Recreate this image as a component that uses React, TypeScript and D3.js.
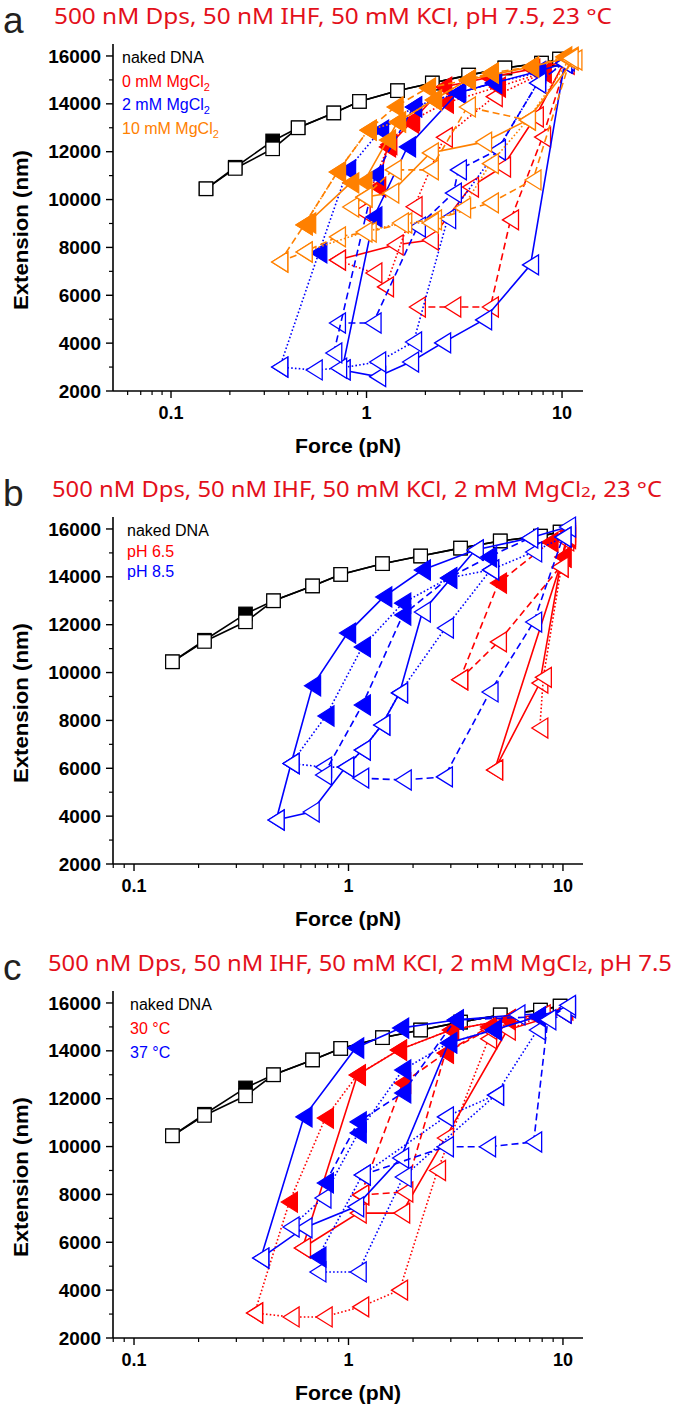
import React from "react";
import * as d3 from "d3";

// [force (pN), extension (nm), filled 1 / open 0]
type Pt = [number, number, number];

// naked DNA, same in all three panels
const nakedForce = [0.151, 0.213, 0.331, 0.447, 0.68, 0.92, 1.44, 2.17, 3.33, 5.1, 7.85, 9.7];
const nakedExtFilled = [10450, 11350, 12450, 13000, 13620, 14100, 14550, 14870, 15200, 15500, 15700, 15870];
const nakedExtOpen = [10450, 11300, 12120, 13000, 13620, 14100, 14550, 14870, 15200, 15500, 15700, 15870];

// ---- panel a: 0 / 2 / 10 mM MgCl2
const aRed1: Pt[] = [[1.82, 5510, 0], [2.76, 5510, 0], [4.3, 5510, 0], [5.45, 9150, 0], [7.95, 12610, 0], [10.5, 15650, 0]];
const aRed2: Pt[] = [[0.71, 7470, 0], [1.4, 8100, 0], [2.12, 8310, 0], [3.4, 10520, 0], [4.96, 11360, 0], [7.3, 13450, 0], [10.2, 15700, 0]];
const aRed3: Pt[] = [[0.71, 7470, 0], [1.09, 6930, 0], [1.25, 6350, 0], [1.75, 9700, 0], [2.5, 12600, 0], [4.5, 14300, 0], [8, 15300, 0]];
const aRed4: Pt[] = [[1.14, 10520, 1], [1.28, 12200, 1], [1.68, 13200, 1], [2.48, 14700, 1], [4.2, 15100, 1], [7, 15450, 1], [10.2, 15750, 1]];
const aRed5: Pt[] = [[0.95, 9500, 0], [1.3, 12300, 1], [1.7, 13300, 1], [2.53, 14030, 1], [4.67, 14700, 1], [8, 15300, 1]];

const aBlue1: Pt[] = [[0.75, 2880, 0], [1.14, 2600, 0], [1.68, 3210, 0], [2.45, 4010, 0], [3.97, 4970, 0], [6.9, 7270, 0], [10.3, 15700, 0]];
const aBlue2: Pt[] = [[0.75, 2880, 0], [1.09, 9270, 1], [1.62, 12200, 1], [2.92, 14450, 1], [4.46, 14870, 1], [7.5, 15350, 1], [10.3, 15700, 1]];
const aBlue3: Pt[] = [[0.36, 3000, 0], [0.54, 2880, 0], [0.72, 2950, 0], [1.14, 3210, 0], [1.74, 4050, 0], [2.6, 9200, 0], [4.67, 12070, 0], [7.5, 14870, 0], [10.5, 15800, 0]];
const aBlue4: Pt[] = [[0.36, 3000, 0], [0.57, 7770, 1], [0.8, 11240, 1], [1.18, 12900, 1], [1.74, 13870, 1], [2.92, 14450, 1], [4.46, 14870, 1], [7.5, 15300, 1]];
const aBlue5: Pt[] = [[0.71, 4840, 0], [1.08, 4840, 0], [1.82, 8850, 0], [2.78, 10270, 0], [2.95, 11240, 0], [4.67, 12070, 0], [7.5, 14870, 0], [10.2, 15700, 0]];
const aBlue6: Pt[] = [[0.68, 3590, 0], [1.11, 11030, 1], [1.74, 13870, 1], [2.92, 14450, 1], [4.46, 14870, 1]];

const aOrange1: Pt[] = [[0.36, 7390, 0], [0.48, 8940, 1], [0.71, 11150, 1], [1.02, 12900, 1], [1.4, 13870, 1], [2.05, 14660, 1], [3.28, 15000, 1], [4.3, 15290, 1], [6.9, 15540, 1], [10.2, 15960, 1]];
const aOrange2: Pt[] = [[0.36, 7390, 0], [0.48, 7810, 0], [0.71, 8440, 0], [1.02, 8640, 0], [1.55, 9020, 0], [2.2, 9150, 0], [4.3, 9860, 0], [7.1, 10820, 0], [11, 15830, 0]];
const aOrange3: Pt[] = [[0.5, 9020, 1], [0.83, 10700, 1], [0.97, 10740, 1], [1.28, 12490, 1], [1.44, 13240, 1], [2.2, 14160, 1], [3.28, 15000, 1], [6.9, 15540, 1], [11, 15950, 1]];
const aOrange4: Pt[] = [[0.83, 9690, 0], [0.97, 10100, 0], [1.33, 10270, 0], [2.12, 11950, 0], [3.97, 12400, 0], [6.65, 13320, 0], [11.5, 15830, 0]];
const aOrange5: Pt[] = [[0.48, 7810, 0], [0.97, 8640, 0], [1.49, 9020, 0], [2.12, 9020, 0], [3.1, 9650, 0], [4.3, 11500, 0], [6.65, 13320, 0], [11, 15900, 0]];
const aOrange6: Pt[] = [[0.48, 8940, 1], [0.71, 11150, 1], [1.02, 12900, 1], [1.44, 13240, 1], [2.2, 14160, 1], [3.28, 15000, 1], [4.3, 15290, 1]];
const aOrange7: Pt[] = [[0.97, 10100, 0], [1.37, 11240, 0], [2.12, 11240, 0], [3.28, 13870, 0], [6.65, 13320, 0]];

// ---- panel b: pH 6.5 / 8.5
const bRed1: Pt[] = [[4.8, 5930, 0], [7.8, 9560, 0], [9.7, 14410, 0], [10.3, 15500, 0]];
const bRed2: Pt[] = [[4.8, 5930, 0], [10, 14830, 1], [10.5, 15800, 1]];
const bRed3: Pt[] = [[7.8, 7680, 0], [8.1, 9800, 0], [10, 14830, 1], [10.5, 15600, 1]];
const bRed4: Pt[] = [[3.3, 9700, 0], [5.0, 13740, 1], [8.7, 15450, 1], [10.5, 15900, 1]];
const bRed5: Pt[] = [[3.3, 9700, 0], [5.0, 11280, 0], [9.7, 14410, 0], [10.5, 15700, 0]];

const bBlue1: Pt[] = [[0.46, 3840, 0], [0.54, 6200, 0], [0.68, 9450, 1], [0.99, 11650, 1], [1.46, 13160, 1], [2.21, 14285, 1], [3.9, 15120, 0], [7.0, 15620, 0], [10.5, 16080, 0]];
const bBlue2: Pt[] = [[0.46, 3840, 0], [0.67, 4170, 0], [0.97, 6050, 0], [1.16, 6760, 0], [1.43, 7810, 0], [1.73, 9150, 0], [2.21, 12530, 0], [3.9, 15120, 0]];
const bBlue3: Pt[] = [[0.54, 6200, 0], [0.785, 8185, 1], [1.16, 11070, 1], [1.79, 12900, 1], [2.93, 13950, 1], [4.6, 14290, 0], [7.3, 15040, 0], [10, 15660, 0]];
const bBlue4: Pt[] = [[0.54, 6200, 0], [0.765, 6050, 0], [0.97, 6050, 0], [1.16, 6760, 0], [1.43, 7810, 0], [1.73, 9150, 0], [2.83, 11860, 0], [4.6, 14290, 0]];
const bBlue5: Pt[] = [[0.765, 5720, 0], [1.16, 8645, 1], [1.79, 12400, 1], [2.93, 13950, 1], [4.5, 14830, 1], [7.0, 15620, 0]];
const bBlue6: Pt[] = [[1.14, 5590, 0], [1.8, 5510, 0], [2.8, 5640, 0], [4.57, 9190, 0], [7.3, 12110, 0], [10, 15660, 0]];

// ---- panel c: 30 / 37 °C
const cRed1: Pt[] = [[0.365, 3045, 0], [0.54, 2880, 0], [0.77, 2880, 0], [1.14, 3300, 0], [1.73, 4000, 0], [2.6, 9000, 0], [4.5, 14500, 0], [7.6, 15400, 0]];
const cRed2: Pt[] = [[0.365, 3045, 0], [0.53, 7680, 1], [0.78, 11190, 1], [1.1, 12990, 1], [1.71, 14030, 1], [2.99, 14870, 1], [5.5, 15300, 1], [10, 15600, 1]];
const cRed3: Pt[] = [[0.61, 5760, 0], [1.11, 7220, 0], [1.77, 7220, 0], [2.83, 10360, 0], [5.5, 14870, 0], [10, 15580, 0]];
const cRed4: Pt[] = [[0.61, 5760, 0], [1.1, 12990, 1], [1.71, 14030, 1], [2.99, 14870, 1], [5.5, 15300, 1], [10.2, 15700, 1]];
const cRed5: Pt[] = [[1.14, 7980, 0], [1.83, 8100, 0], [2.83, 13910, 1], [4.5, 14900, 0], [8, 15500, 0]];
const cRed6: Pt[] = [[1.14, 7980, 0], [1.79, 12650, 1], [2.83, 13910, 1], [4.5, 15000, 1]];

const cBlue1: Pt[] = [[0.39, 5340, 0], [0.62, 11240, 1], [1.08, 14120, 1], [1.75, 14950, 1], [3.15, 15290, 1], [6.1, 15500, 0], [10, 15580, 0]];
const cBlue2: Pt[] = [[0.39, 5340, 0], [0.62, 6600, 0], [1.08, 7480, 0], [1.75, 9520, 0], [2.93, 14330, 1], [4.74, 14870, 1], [7.6, 15420, 1], [10.5, 15800, 0]];
const cBlue3: Pt[] = [[0.72, 4760, 0], [1.11, 4760, 0], [1.8, 8730, 0], [4.85, 12150, 0], [7.6, 14870, 0], [10, 15580, 0]];
const cBlue4: Pt[] = [[0.54, 6640, 0], [0.76, 7850, 0], [1.11, 10570, 1], [1.79, 13200, 1], [2.93, 14330, 1], [4.74, 14870, 1]];
const cBlue5: Pt[] = [[0.78, 8480, 1], [1.11, 11030, 1], [1.79, 12240, 1], [3.15, 15290, 1], [7.6, 15420, 1]];
const cBlue6: Pt[] = [[0.72, 5380, 1], [1.16, 8810, 0], [2.83, 11240, 0], [4.85, 12150, 0]];
const cBlue7: Pt[] = [[1.16, 8810, 0], [2.83, 9990, 0], [4.45, 9990, 0], [7.3, 10190, 0], [8.5, 15300, 0], [10.5, 15900, 0]];

const titleA = ["500 nM Dps, 50 nM IHF, 50 mM KCl, pH 7.5, 23 °C"];
const titleB = ["500 nM Dps, 50 nM IHF, 50 mM KCl, 2 mM MgCl", "2", ", 23 °C"];
const titleC = ["500 nM Dps, 50 nM IHF, 50 mM KCl, 2 mM MgCl", "2", ", pH 7.5"];
const legendA = ["naked DNA", "0 mM MgCl2", "2 mM MgCl2", "10 mM MgCl2"];
const legendB = ["naked DNA", "pH 6.5", "pH 8.5"];
const legendC = ["naked DNA", "30 °C", "37 °C"];
const yTicks = [2000, 4000, 6000, 8000, 10000, 12000, 14000, 16000];
const xTicks = [0.1, 1, 10];

const RED = "#ff0000";
const BLUE = "#0000ff";
const ORANGE = "#ff8000";
const TITLE_RED = "#e3101b";
const DASH: Record<string, string | undefined> = { solid: undefined, dash: "7,4", dot: "1.6,2.2" };

type Series = { pts: Pt[]; color: string; dash: string };

const seriesA: Series[] = [
  { pts: aRed1, color: RED, dash: "dash" },
  { pts: aRed2, color: RED, dash: "solid" },
  { pts: aRed3, color: RED, dash: "dot" },
  { pts: aRed4, color: RED, dash: "solid" },
  { pts: aRed5, color: RED, dash: "dot" },
  { pts: aBlue1, color: BLUE, dash: "solid" },
  { pts: aBlue2, color: BLUE, dash: "solid" },
  { pts: aBlue3, color: BLUE, dash: "dot" },
  { pts: aBlue4, color: BLUE, dash: "dot" },
  { pts: aBlue5, color: BLUE, dash: "dash" },
  { pts: aBlue6, color: BLUE, dash: "dash" },
  { pts: aOrange1, color: ORANGE, dash: "dash" },
  { pts: aOrange2, color: ORANGE, dash: "dash" },
  { pts: aOrange3, color: ORANGE, dash: "solid" },
  { pts: aOrange4, color: ORANGE, dash: "solid" },
  { pts: aOrange5, color: ORANGE, dash: "dot" },
  { pts: aOrange6, color: ORANGE, dash: "dot" },
  { pts: aOrange7, color: ORANGE, dash: "dash" },
];
const seriesB: Series[] = [
  { pts: bRed1, color: RED, dash: "solid" },
  { pts: bRed2, color: RED, dash: "solid" },
  { pts: bRed3, color: RED, dash: "dot" },
  { pts: bRed4, color: RED, dash: "dash" },
  { pts: bRed5, color: RED, dash: "dash" },
  { pts: bBlue1, color: BLUE, dash: "solid" },
  { pts: bBlue2, color: BLUE, dash: "solid" },
  { pts: bBlue3, color: BLUE, dash: "dot" },
  { pts: bBlue4, color: BLUE, dash: "dot" },
  { pts: bBlue5, color: BLUE, dash: "dash" },
  { pts: bBlue6, color: BLUE, dash: "dash" },
];
const seriesC: Series[] = [
  { pts: cRed1, color: RED, dash: "dot" },
  { pts: cRed2, color: RED, dash: "dot" },
  { pts: cRed3, color: RED, dash: "solid" },
  { pts: cRed4, color: RED, dash: "solid" },
  { pts: cRed5, color: RED, dash: "dash" },
  { pts: cRed6, color: RED, dash: "dash" },
  { pts: cBlue1, color: BLUE, dash: "solid" },
  { pts: cBlue2, color: BLUE, dash: "solid" },
  { pts: cBlue3, color: BLUE, dash: "dot" },
  { pts: cBlue4, color: BLUE, dash: "dot" },
  { pts: cBlue5, color: BLUE, dash: "dash" },
  { pts: cBlue6, color: BLUE, dash: "dot" },
  { pts: cBlue7, color: BLUE, dash: "dash" },
];

const SANS = "'Liberation Sans', Arial, sans-serif";
const TITLE_FONT = "'Noto Sans', 'Open Sans', sans-serif";
const X0 = 113;
const X1 = 583;
const TRI_W = 16;
const TRI_H = 20;
const SQ = 13.5;
const tri = `M${-TRI_W / 2},0L${TRI_W / 2},${-TRI_H / 2}L${TRI_W / 2},${TRI_H / 2}Z`;

interface PanelProps {
  y0: number;
  xDomain: [number, number];
  letter: string;
  title: string[];
  titleX: number;
  titleW: number;
  legend: string[];
  legendColors: string[];
  legendX: number;
  legendStep: number;
  series: Series[];
}

const Panel = ({ y0, xDomain, letter, title, titleX, titleW, legend, legendColors, legendX, legendStep, series }: PanelProps) => {
  const x = d3.scaleLog().domain(xDomain).range([X0, X1]);
  const y = d3.scaleLinear().domain([2000, 16500]).range([y0, y0 - 347]);

  const minorX: number[] = [];
  [0.01, 0.1, 1, 10].forEach((dec) => {
    for (let k = 2; k <= 9; k++) {
      const v = dec * k;
      if (v > xDomain[0] && v < xDomain[1]) minorX.push(v);
    }
  });
  const minorY = d3.range(3000, 16500, 2000);

  const lineGen = d3
    .line<Pt>()
    .x((d) => x(d[0]))
    .y((d) => y(d[1]));

  const nakedF: Pt[] = nakedForce.map((f, i) => [f, nakedExtFilled[i], 1]);
  const nakedO: Pt[] = nakedForce.map((f, i) => [f, nakedExtOpen[i], 0]);

  return (
    <g>
      {/* panel letter and title */}
      <text x={3} y={y0 - 358} fontFamily={SANS} fontSize={37} fill="#231f20">
        {letter}
      </text>
      <text
        x={titleX}
        y={y0 - 367}
        fontFamily={TITLE_FONT}
        fontSize={21}
        fill={TITLE_RED}
        textLength={titleW}
        lengthAdjust="spacingAndGlyphs"
      >
        {title.map((t, i) =>
          i === 1 ? (
            <tspan key={i} fontSize={15}>
              {t}
            </tspan>
          ) : (
            <tspan key={i}>{t}</tspan>
          )
        )}
      </text>

      {/* naked DNA */}
      <path d={lineGen(nakedF) || ""} fill="none" stroke="#000" strokeWidth={1.6} />
      {nakedF.map((d, i) => (
        <rect key={`nf${i}`} x={x(d[0]) - SQ / 2} y={y(d[1]) - SQ / 2} width={SQ} height={SQ} fill="#000" stroke="#000" strokeWidth={1.2} />
      ))}
      <path d={lineGen(nakedO) || ""} fill="none" stroke="#000" strokeWidth={1.6} />
      {nakedO.map((d, i) => (
        <rect key={`no${i}`} x={x(d[0]) - SQ / 2} y={y(d[1]) - SQ / 2} width={SQ} height={SQ} fill="#fff" stroke="#000" strokeWidth={1.2} />
      ))}

      {/* data series */}
      {series.map((s, si) => (
        <g key={si}>
          <path d={lineGen(s.pts) || ""} fill="none" stroke={s.color} strokeWidth={1.6} strokeDasharray={DASH[s.dash]} />
          {s.pts.map((d, i) => (
            <path
              key={i}
              d={tri}
              transform={`translate(${x(d[0])},${y(d[1])})`}
              fill={d[2] ? s.color : "#fff"}
              stroke={s.color}
              strokeWidth={1.3}
              strokeLinejoin="miter"
            />
          ))}
        </g>
      ))}

      {/* legend */}
      {legend.map((t, i) => {
        const sub = t.endsWith("MgCl2");
        return (
          <text key={t} x={legendX} y={y0 - 328 + i * legendStep} fontFamily={SANS} fontSize={16} fill={legendColors[i]}>
            {sub ? t.slice(0, -1) : t}
            {sub && (
              <tspan fontSize={11} dy={4}>
                2
              </tspan>
            )}
          </text>
        );
      })}

      {/* axes */}
      <line x1={X0} x2={X0} y1={y0} y2={y(16500)} stroke="#000" strokeWidth={1.6} />
      <line x1={X0} x2={X1} y1={y0} y2={y0} stroke="#000" strokeWidth={1.6} />
      {yTicks.map((t) => (
        <g key={t}>
          <line x1={X0} x2={X0 - 7} y1={y(t)} y2={y(t)} stroke="#000" strokeWidth={1.4} />
          <text x={101} y={y(t)} dy="0.35em" textAnchor="end" fontFamily={SANS} fontWeight="bold" fontSize={19}>
            {t}
          </text>
        </g>
      ))}
      {minorY.map((t) => (
        <line key={t} x1={X0} x2={X0 - 4} y1={y(t)} y2={y(t)} stroke="#000" strokeWidth={1.2} />
      ))}
      {xTicks.map((t) => (
        <g key={t}>
          <line x1={x(t)} x2={x(t)} y1={y0} y2={y0 + 7} stroke="#000" strokeWidth={1.4} />
          <text x={x(t)} y={y0 + 28} textAnchor="middle" fontFamily={SANS} fontWeight="bold" fontSize={18}>
            {t}
          </text>
        </g>
      ))}
      {minorX.map((t) => (
        <line key={t} x1={x(t)} x2={x(t)} y1={y0} y2={y0 + 4} stroke="#000" strokeWidth={1.2} />
      ))}

      {/* axis titles */}
      <text
        transform={`translate(28,${y0 - 161}) rotate(-90)`}
        textAnchor="middle"
        fontFamily={SANS}
        fontWeight="bold"
        fontSize={20}
        textLength={160}
        lengthAdjust="spacingAndGlyphs"
      >
        Extension (nm)
      </text>
      <text
        x={348}
        y={y0 + 62}
        textAnchor="middle"
        fontFamily={SANS}
        fontWeight="bold"
        fontSize={20}
        textLength={106}
        lengthAdjust="spacingAndGlyphs"
      >
        Force (pN)
      </text>
    </g>
  );
};

export default function App() {
  return (
    <svg width={675} height={1411} style={{ position: "absolute", left: 0, top: 0, background: "#fff" }}>
      <rect width={675} height={1411} fill="#fff" />
      <Panel
        y0={391}
        xDomain={[0.0505, 12.8]}
        letter="a"
        title={titleA}
        titleX={54}
        titleW={558}
        legend={legendA}
        legendColors={["#000", RED, BLUE, ORANGE]}
        legendX={122}
        legendStep={23.5}
        series={seriesA}
      />
      <Panel
        y0={864}
        xDomain={[0.0798, 12.4]}
        letter="b"
        title={titleB}
        titleX={52}
        titleW={610}
        legend={legendB}
        legendColors={["#000", RED, BLUE]}
        legendX={127}
        legendStep={20.5}
        series={seriesB}
      />
      <Panel
        y0={1338}
        xDomain={[0.0798, 12.4]}
        letter="c"
        title={titleC}
        titleX={48}
        titleW={624}
        legend={legendC}
        legendColors={["#000", RED, BLUE]}
        legendX={130}
        legendStep={24}
        series={seriesC}
      />
    </svg>
  );
}
